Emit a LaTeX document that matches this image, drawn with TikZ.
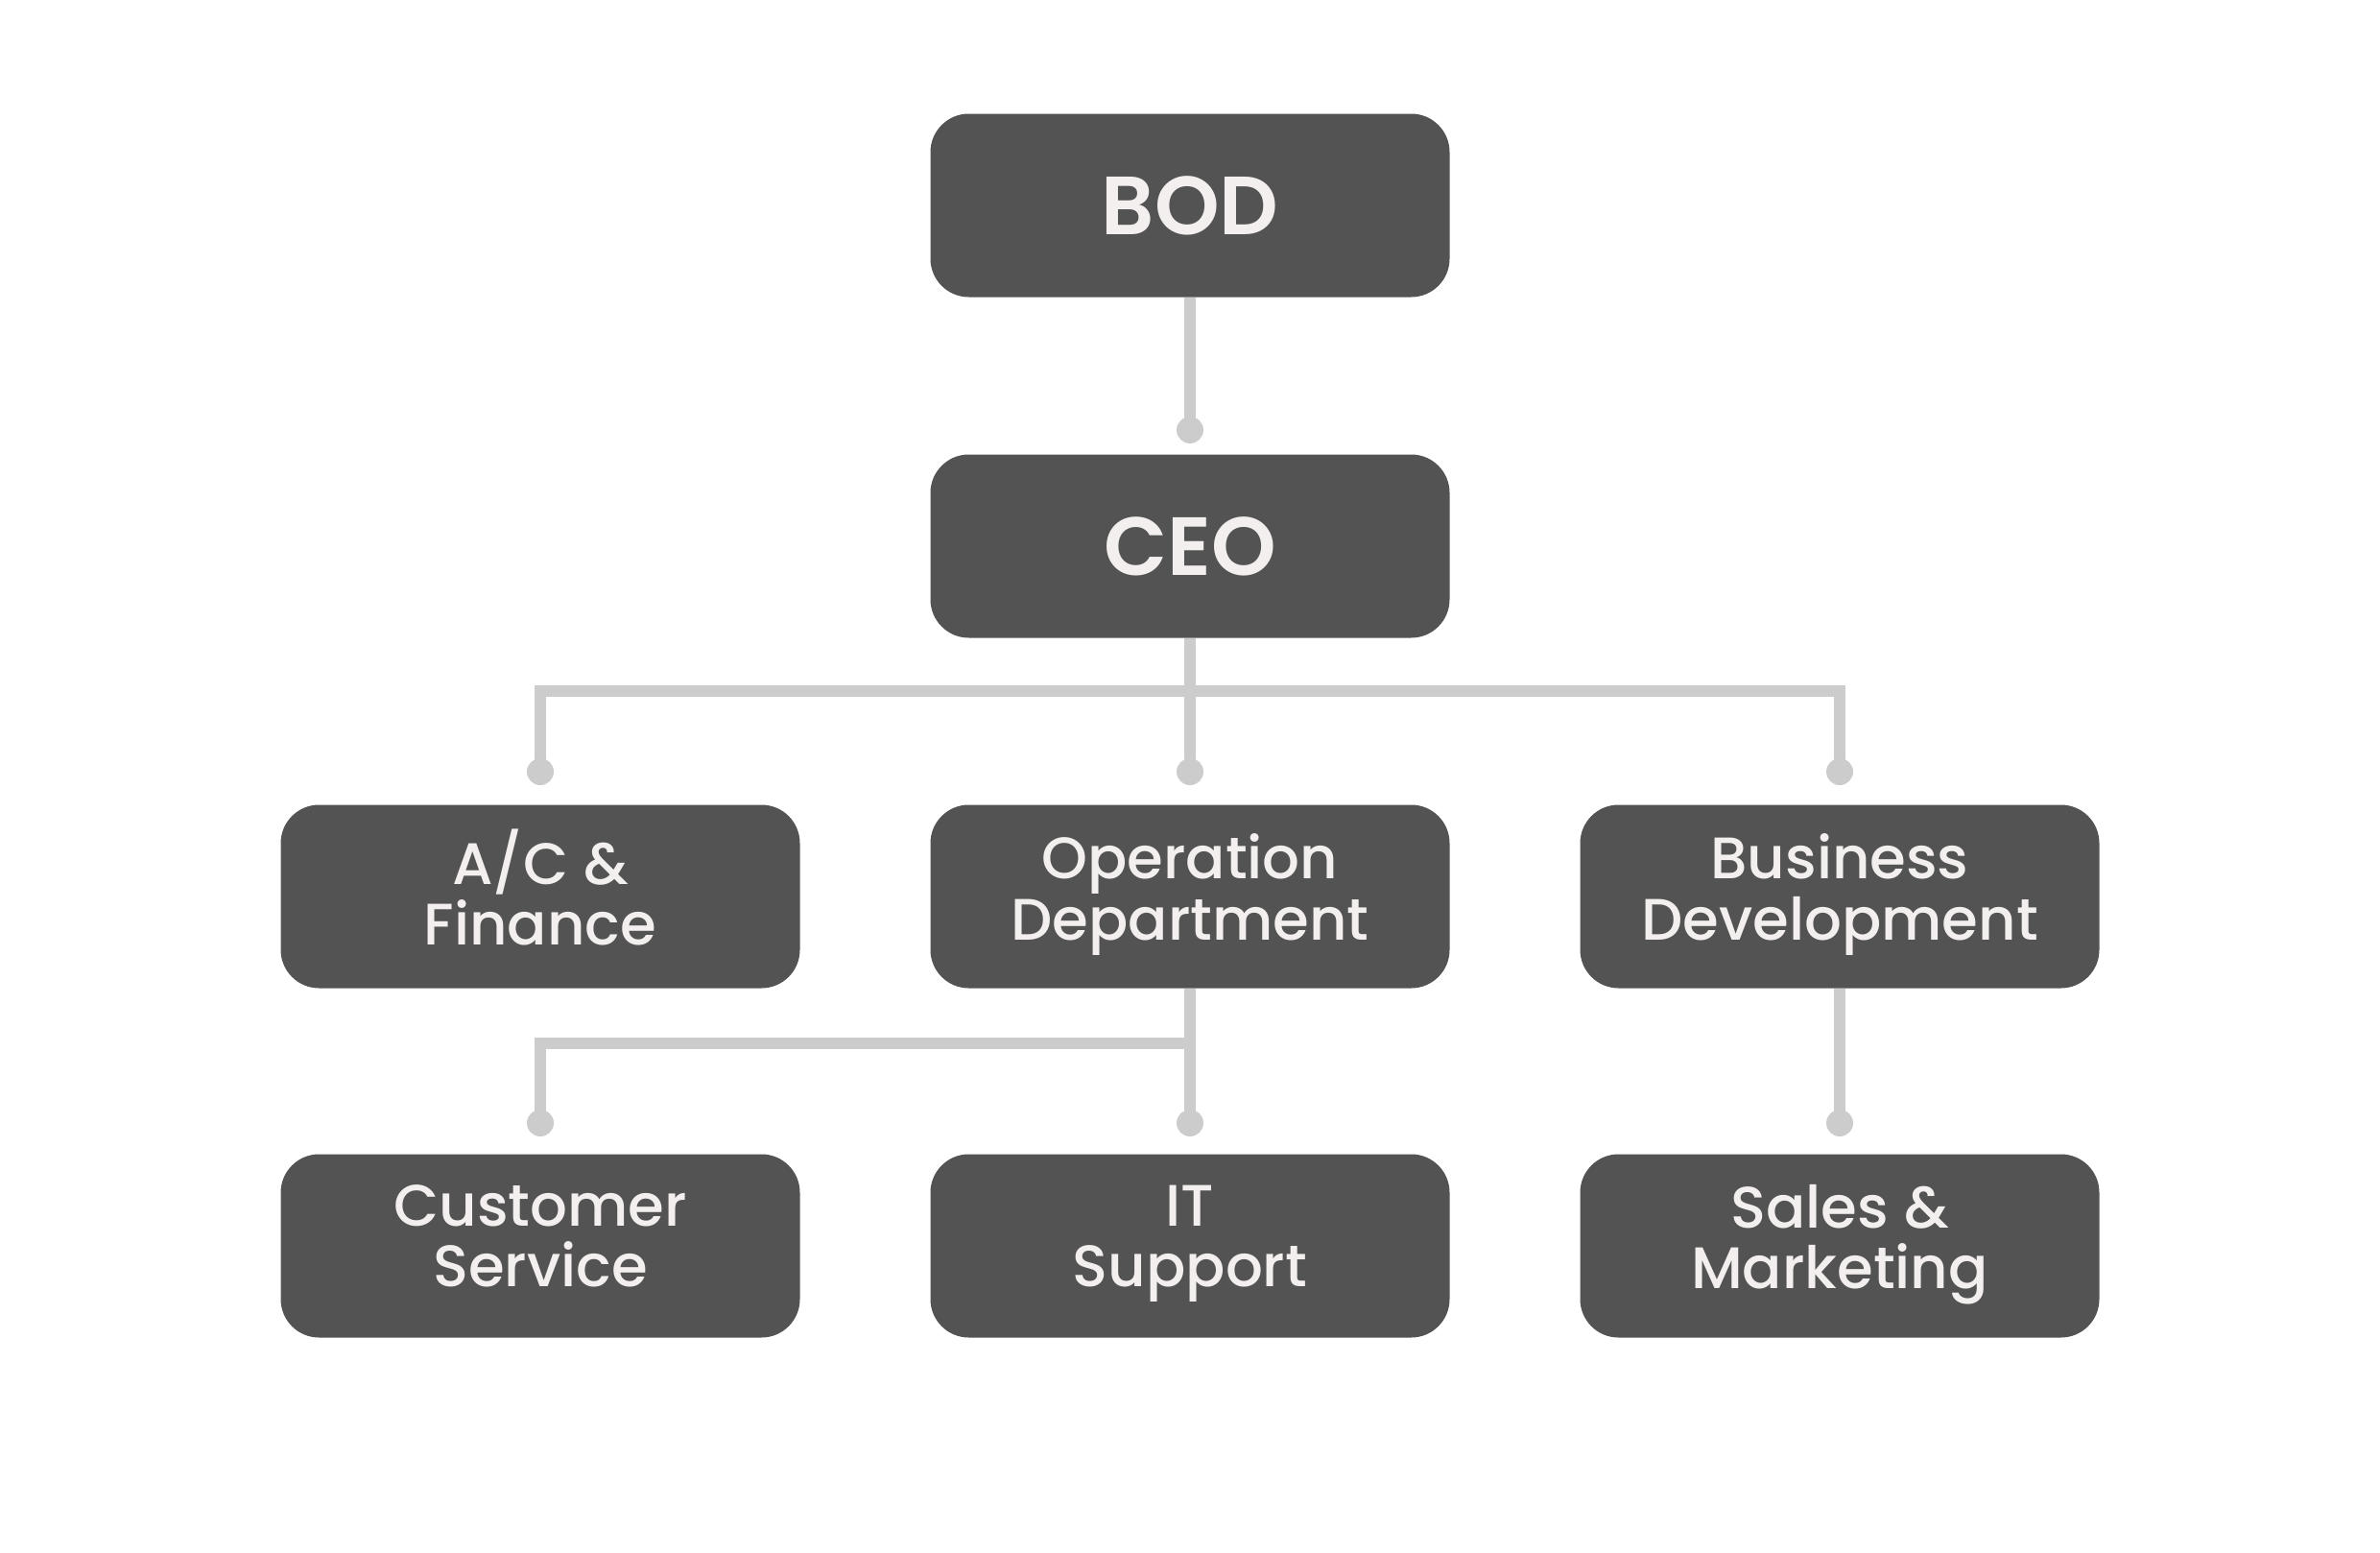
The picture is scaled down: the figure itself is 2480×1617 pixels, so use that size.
\documentclass[tikz,border=0pt]{standalone}
\usepackage{fontspec}
\setmainfont{Poppins}[UprightFont={* Medium},BoldFont={* SemiBold}]
\usetikzlibrary{positioning}
\definecolor{boxgray}{HTML}{535353}
\definecolor{linegray}{HTML}{CCCCCC}
\definecolor{txtwhite}{HTML}{F3EFEE}
\newcommand{\topstrut}{\rule{0pt}{52pt}}
\newcommand{\botstrut}{\rule[-20pt]{0pt}{20pt}}
\begin{document}
\begin{tikzpicture}[x=1pt,y=-1pt,
	box/.style={fill=boxgray,rounded corners=40pt,minimum width=541pt,minimum height=191pt,
		text=txtwhite,align=center,inner sep=0pt},
	unit/.style={box,font=\fontsize{61}{63}\selectfont,
		execute at begin node=\topstrut,execute at end node=\botstrut},
	top/.style={box,font=\fontsize{86}{90}\selectfont\bfseries},
	pin/.style={circle,fill=linegray,minimum size=28pt,inner sep=0pt},
	conn/.style={draw=linegray,line width=12pt}]
				\useasboundingbox (0,0) rectangle (2480,1617);
				\node[top] (bod) at (1240,214) {BOD};
				\node[top] (ceo) at (1240,569) {CEO};
				\node[unit] (fin) at (563,934) {A/C \&\\Finance};
				\node[unit] (op) at (1240,934) {Operation\\Department};
				\node[unit] (bd) at (1917,934) {Business\\Development};
				\node[unit] (cs) at (563,1298) {Customer\\Service};
				\node[unit] (it) at (1240,1298) {IT\\Support};
				\node[unit] (sm) at (1917,1298) {Sales \&\\Marketing};
				\coordinate (p1) at (1240,448);
				\coordinate (p2) at (563,804);
				\coordinate (p3) at (1240,804);
				\coordinate (p4) at (1917,804);
				\coordinate (p5) at (563,1170);
				\coordinate (p6) at (1240,1170);
				\coordinate (p7) at (1917,1170);
				\coordinate (busa) at (1240,720);
				\coordinate (busb) at (1240,1087);
				\path[conn]
				(bod.south) -- (p1)
				(ceo.south) -- (p3)
				(p2) |- (busa) -| (p4)
				(op.south) -- (p6)
				(p5) |- (busb)
				(bd.south) -- (p7);
				\foreach \p in {p1,p2,p3,p4,p5,p6,p7}
				\node[pin] at (\p) {};
			\end{tikzpicture}
\end{document}
